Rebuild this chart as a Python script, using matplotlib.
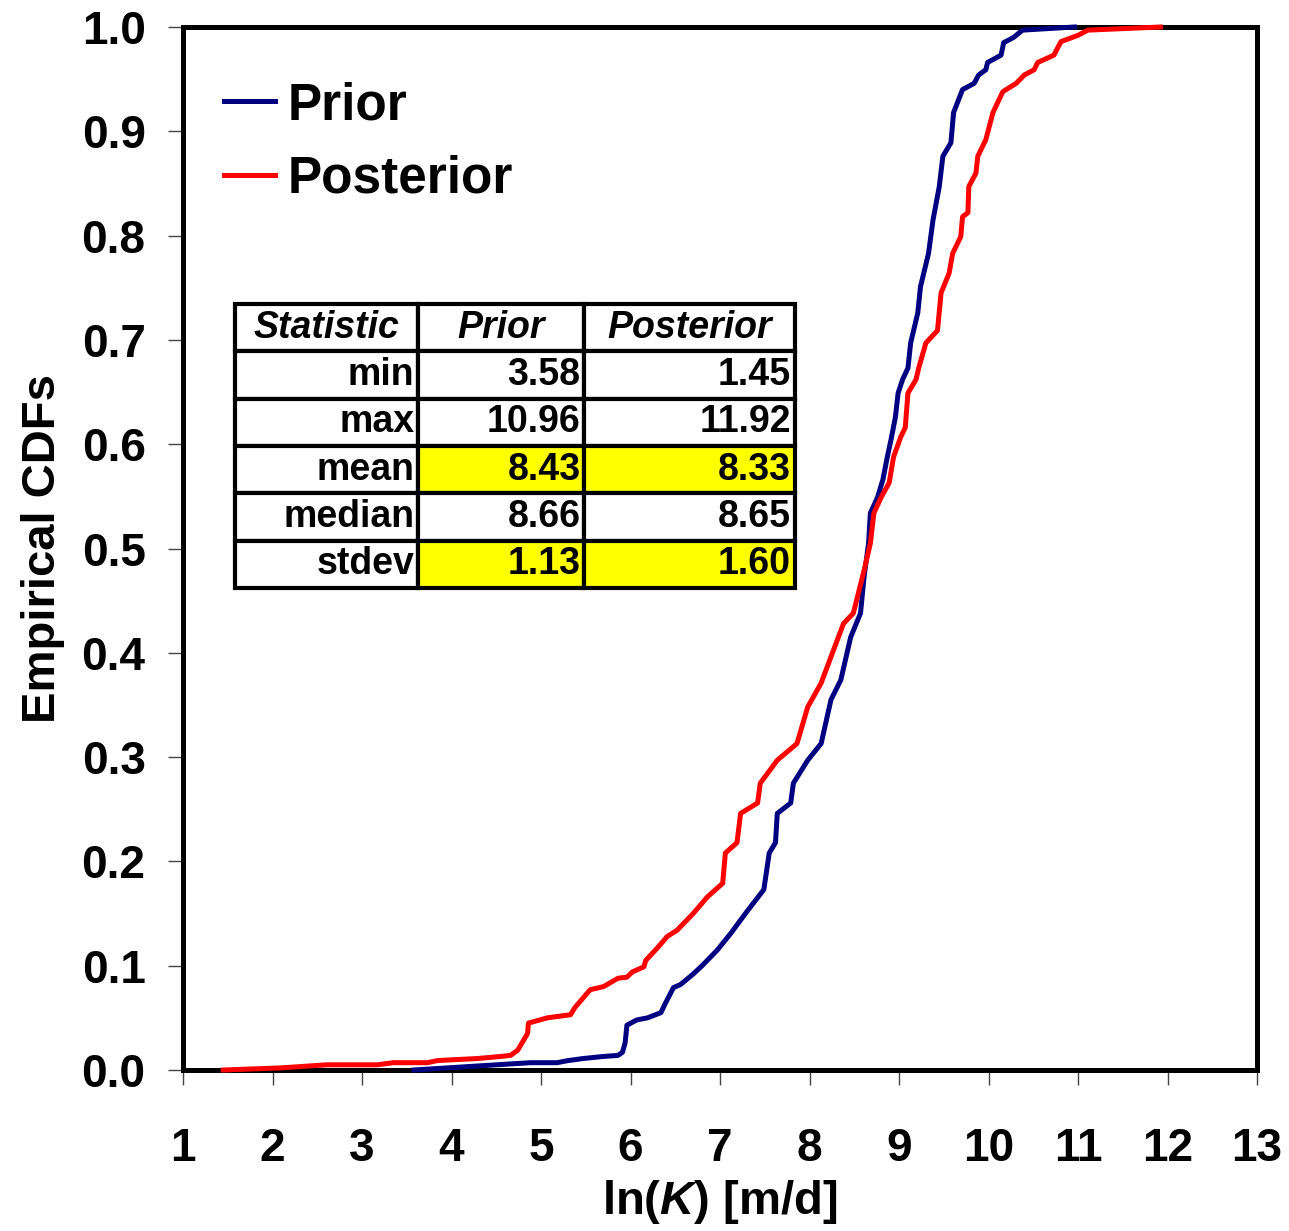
import matplotlib
matplotlib.use("Agg")
import matplotlib.pyplot as plt

plt.rcParams['font.family'] = 'Liberation Sans'
plt.rcParams['font.weight'] = 'bold'
plt.rcParams['mathtext.fontset'] = 'custom'
plt.rcParams['mathtext.it'] = 'Liberation Sans:italic:bold'
plt.rcParams['mathtext.rm'] = 'Liberation Sans:bold'

# empirical CDF of ln(K), prior ensemble
prior_x = [3.58, 4.32, 4.88, 5.18, 5.30, 5.47, 5.70, 5.86, 5.91, 5.94, 5.96,
           6.07, 6.19, 6.34, 6.39, 6.48, 6.56, 6.70, 6.80, 6.97, 7.12, 7.31,
           7.49, 7.55, 7.62, 7.64, 7.79, 7.82, 7.98, 8.13, 8.24, 8.35, 8.46,
           8.57, 8.61, 8.66, 8.68, 8.76, 8.82, 8.87, 8.91, 8.96, 8.99, 9.04,
           9.10, 9.13, 9.21, 9.24, 9.33, 9.38, 9.45, 9.49, 9.58, 9.61, 9.71,
           9.84, 9.89, 9.97, 9.99, 10.14, 10.17, 10.28, 10.38, 10.96]
prior_cdf = [0.0, 0.004, 0.007, 0.007, 0.009, 0.011, 0.013, 0.014, 0.017,
             0.026, 0.043, 0.048, 0.050, 0.055, 0.064, 0.079, 0.082, 0.092,
             0.100, 0.115, 0.131, 0.153, 0.173, 0.208, 0.218, 0.246, 0.256,
             0.275, 0.297, 0.313, 0.355, 0.374, 0.415, 0.438, 0.473, 0.505,
             0.534, 0.549, 0.566, 0.588, 0.604, 0.626, 0.649, 0.662, 0.673,
             0.697, 0.726, 0.751, 0.783, 0.815, 0.847, 0.876, 0.889, 0.918,
             0.940, 0.946, 0.954, 0.959, 0.966, 0.973, 0.985, 0.990, 0.997, 1.0]

# posterior ensemble
post_x = [1.45, 2.09, 2.61, 3.17, 3.35, 3.73, 3.84, 4.06, 4.29, 4.55, 4.66,
          4.74, 4.85, 4.86, 5.07, 5.33, 5.38, 5.55, 5.70, 5.86, 5.96, 6.02,
          6.15, 6.17, 6.30, 6.41, 6.52, 6.70, 6.86, 7.03, 7.06, 7.19, 7.23,
          7.42, 7.45, 7.64, 7.86, 7.98, 8.13, 8.27, 8.38, 8.49, 8.61, 8.68,
          8.72, 8.80, 8.89, 8.94, 9.02, 9.07, 9.10, 9.19, 9.22, 9.30, 9.43,
          9.47, 9.56, 9.60, 9.69, 9.71, 9.77, 9.78, 9.86, 9.88, 9.97, 10.05,
          10.16, 10.31, 10.40, 10.51, 10.55, 10.73, 10.81, 11.00, 11.11, 11.92]
post_cdf = [0.0, 0.002, 0.005, 0.005, 0.007, 0.007, 0.009, 0.010, 0.011,
            0.013, 0.014, 0.019, 0.035, 0.045, 0.050, 0.053, 0.060, 0.077,
            0.080, 0.088, 0.089, 0.094, 0.099, 0.105, 0.117, 0.128, 0.134,
            0.150, 0.166, 0.179, 0.208, 0.218, 0.246, 0.256, 0.275, 0.297,
            0.313, 0.348, 0.371, 0.403, 0.428, 0.438, 0.479, 0.505, 0.534,
            0.549, 0.563, 0.588, 0.607, 0.616, 0.649, 0.662, 0.673, 0.697,
            0.709, 0.745, 0.764, 0.783, 0.799, 0.818, 0.822, 0.847, 0.860,
            0.876, 0.892, 0.918, 0.938, 0.946, 0.954, 0.959, 0.966, 0.973,
            0.986, 0.992, 0.997, 1.0]

stat_names = ['min', 'max', 'mean', 'median', 'stdev']
prior_stats = ['3.58', '10.96', '8.43', '8.66', '1.13']
post_stats = ['1.45', '11.92', '8.33', '8.65', '1.60']
highlight_rows = ['mean', 'stdev']

fig = plt.figure(figsize=(12.89, 12.31), dpi=100)
ax = fig.add_axes([183 / 1289, 161 / 1231, 1074 / 1289, 1043 / 1231])

ax.plot(prior_x, prior_cdf, color='#000080', lw=3.6, label='Prior',
        clip_on=False, zorder=5)
ax.plot(post_x, post_cdf, color='#ff0000', lw=3.6, label='Posterior',
        clip_on=False, zorder=5)

ax.set_xlim(1, 13)
ax.set_ylim(0, 1)
ax.set_xticks(range(1, 14))
ax.set_yticks([i / 10 for i in range(11)])
ax.set_yticklabels([f"{i / 10:.1f}" for i in range(11)])
ax.tick_params(axis='x', direction='out', length=11, width=1, color='#444444',
               labelsize=33, pad=30)
ax.tick_params(axis='y', direction='out', length=11, width=1, color='#444444',
               labelsize=33, pad=16)
for s in ax.spines.values():
    s.set_linewidth(3.6)
    s.set_color('black')

ax.set_xlabel(r'ln($\mathit{K}$) [m/d]', fontsize=34, fontweight='bold', labelpad=5)
ax.set_ylabel('Empirical CDFs', fontsize=34, fontweight='bold', labelpad=12)

leg = ax.legend(loc='upper left', bbox_to_anchor=(0.038, 0.948), frameon=False,
                prop={'size': 37, 'weight': 'bold'}, handlelength=1.0,
                handletextpad=0.25, labelspacing=0.48, borderpad=0, borderaxespad=0)
for h in leg.get_lines():
    h.set_linewidth(3.6)

# summary statistics table
cell_text = [[n, p, q] for n, p, q in zip(stat_names, prior_stats, post_stats)]
cell_colours = [['white', '#ffff00', '#ffff00'] if n in highlight_rows
                else ['white', 'white', 'white'] for n in stat_names]
tbl = ax.table(cellText=cell_text, cellColours=cell_colours,
               colLabels=['Statistic', 'Prior', 'Posterior'],
               colWidths=[0.327, 0.296, 0.377], cellLoc='right', colLoc='center',
               bbox=[52 / 1074, 482 / 1043, 560 / 1074, 284 / 1043], zorder=6)
tbl.auto_set_font_size(False)
for (r, c), cell in tbl.get_celld().items():
    cell.set_linewidth(3)
    cell.set_edgecolor('black')
    cell.PAD = 0.02
    if r == 0:
        cell.set_text_props(fontsize=27, fontweight='bold', fontstyle='italic')
    else:
        cell.set_text_props(fontsize=27, fontweight='bold')

fig.savefig('out.png', dpi=100)
